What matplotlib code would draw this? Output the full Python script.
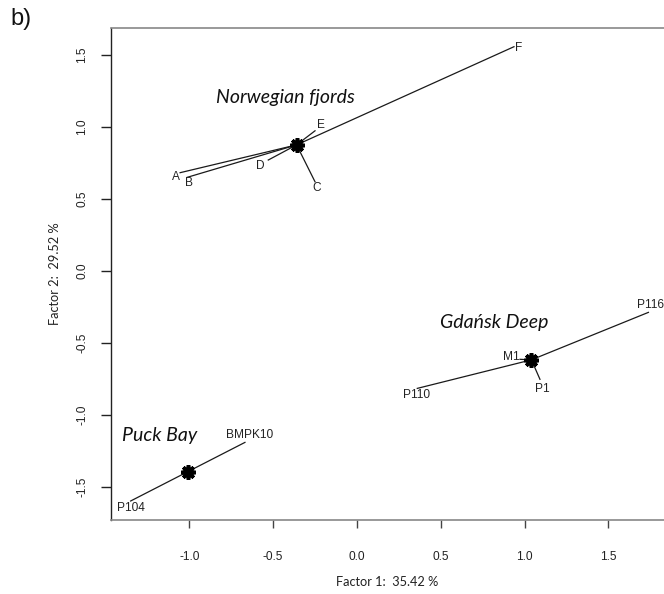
import matplotlib
matplotlib.use('Agg')
import matplotlib.pyplot as plt
import numpy as np

# sample scores on the two factors
norway_names = ['A', 'B', 'C', 'D', 'E', 'F']
norway_x = [-1.055, -1.012, -0.250, -0.529, -0.250, 0.937]
norway_y = [0.683, 0.651, 0.620, 0.771, 0.974, 1.558]

gdansk_names = ['P110', 'M1', 'P1', 'P116']
gdansk_x = [0.360, 0.973, 1.092, 1.739]
gdansk_y = [-0.815, -0.613, -0.752, -0.287]

puck_names = ['P104', 'BMPK10']
puck_x = [-1.350, -0.668]
puck_y = [-1.597, -1.190]

group_names = ['Norwegian fjords', 'Gdańsk Deep', 'Puck Bay']
xlabel = 'Factor 1:  35.42 %'
ylabel = 'Factor 2:  29.52 %'
xticks = [-1.0, -0.5, 0.0, 0.5, 1.0, 1.5]
yticks = [-1.5, -1.0, -0.5, 0.0, 0.5, 1.0, 1.5]

# label nudges in pixels (dx, dy) from the end of each ray
label_nudge = {'A': (-4, -4), 'B': (2, -6), 'C': (2, -6), 'D': (-8, -6),
               'E': (6, 6), 'F': (5, -1), 'P116': (2, 7), 'P1': (2, -10),
               'M1': (-9, 2), 'P110': (-1, -7), 'P104': (0, -7),
               'BMPK10': (5, 7)}
# group title offsets from centroid, in pixels
title_nudge = [(-11, 47), (-37, 37), (-28, 36)]

sans = ['Liberation Sans', 'DejaVu Sans']
cal = ['Lato', 'DejaVu Sans']

fig = plt.figure(figsize=(6.64, 5.94), dpi=100)
ax = fig.add_axes([110.7 / 664, 74 / 594, 1 - 110.7 / 664, (520 - 27.7) / 594])
ax.set_xlim(-1.469, 1.832)
ax.set_ylim(-1.729, 1.690)

groups = [(norway_names, norway_x, norway_y),
          (gdansk_names, gdansk_x, gdansk_y),
          (puck_names, puck_x, puck_y)]

for gi, (names, xs, ys) in enumerate(groups):
    xs = np.array(xs)
    ys = np.array(ys)
    cx, cy = xs.mean(), ys.mean()
    for n, x, y in zip(names, xs, ys):
        ax.plot([cx, x], [cy, y], color='#1a1a1a', lw=0.9, zorder=2)
        dx, dy = label_nudge[n]
        ax.annotate(n, (x, y), xytext=(dx, dy), textcoords='offset pixels',
                    ha='center', va='center', fontsize=8.6, family=sans,
                    color='#222222')
    ax.plot([cx], [cy], marker=(8, 2, 0), ms=10.5, mew=2.6, color='black',
            zorder=3)
    tx, ty = title_nudge[gi]
    ax.annotate(group_names[gi], (cx, cy), xytext=(tx, ty),
                textcoords='offset pixels', ha='center', va='center',
                fontsize=14, style='italic', family=cal, color='#111111')

for s in ['top', 'bottom']:
    ax.spines[s].set_color('#888888')
    ax.spines[s].set_linewidth(1.2)
ax.spines['left'].set_color('#222222')
ax.spines['left'].set_linewidth(1.0)
ax.spines['right'].set_visible(False)

ax.set_xticks(xticks)
ax.set_xticklabels(['%.1f' % v for v in xticks], family=sans, fontsize=8.6,
                   color='#222222')
ax.set_yticks(yticks)
ax.set_yticklabels(['%.1f' % v for v in yticks], family=sans, fontsize=8.6,
                   color='#222222', rotation=90, va='center')
ax.tick_params(axis='x', length=6, width=1.0, color='#444444', pad=16)
ax.tick_params(axis='y', length=7, width=1.0, color='#222222', pad=9)

ax.set_xlabel(xlabel, family=cal, fontsize=9.2, color='#222222', labelpad=10)
ax.set_ylabel(ylabel, family=cal, fontsize=9.2, color='#222222', labelpad=11)

fig.text(21 / 664, 1 - 19 / 594, 'b)', family=sans, fontsize=17,
         ha='center', va='center', color='#111111')

fig.savefig('out.png', dpi=100)
